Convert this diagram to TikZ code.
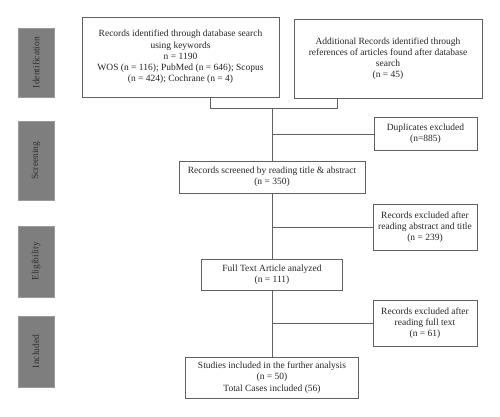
\documentclass[tikz,border=0pt]{standalone}
\usepackage{fontspec}
\setmainfont{Liberation Serif}
\begin{document}
\begin{tikzpicture}[x=1pt,y=-1pt,
  box/.style={draw=linec,line width=0.8pt,fill=white,inner sep=0pt,align=center,font=\fontsize{9.5}{11.2}\selectfont,text=txt},
  bar/.style={draw=barb,line width=0.6pt,fill=barf,inner sep=0pt,minimum width=36pt,font=\fontsize{9.5}{11}\selectfont,text=bart},
  conn/.style={draw=linec,line width=0.8pt}]
\definecolor{linec}{HTML}{606060}
\definecolor{txt}{HTML}{262626}
\definecolor{barf}{HTML}{7E7E7E}
\definecolor{barb}{HTML}{9A9A9A}
\definecolor{bart}{HTML}{2E2E2E}
\useasboundingbox (0,0) rectangle (500,416);
% side bars
\node[bar,minimum height=69pt] (bid) at (36,62.5) {\rotatebox{90}{Identification}};
\node[bar,minimum height=79pt] (bsc) at (36,160.5) {\rotatebox{90}{Screening}};
\node[bar,minimum height=71pt] (bel) at (36,261.5) {\rotatebox{90}{Eligibility}};
\node[bar,minimum height=71pt] (bin) at (36,351.5) {\rotatebox{90}{Included}};
% boxes
\node[box,minimum width=197pt,minimum height=80pt] (b1) at (180.5,57) {Records identified through database search\\using keywords\\n = 1190\\WOS (n = 116); PubMed (n = 646); Scopus\\(n = 424); Cochrane (n = 4)};
\node[box,minimum width=188pt,minimum height=79pt] (b2) at (388,58.5) {Additional Records identified through\\references of articles found after database\\search\\(n = 45)};
\node[box,minimum width=103pt,minimum height=33pt] (dup) at (425.5,134) {Duplicates excluded\\(n=885)};
\node[box,minimum width=186pt,minimum height=32pt] (scr) at (272,177) {Records screened by reading title \& abstract\\(n = 350)};
\node[box,minimum width=104pt,minimum height=46pt] (ex1) at (425,227) {Records excluded after\\reading abstract and title\\(n = 239)};
\node[box,minimum width=141pt,minimum height=31pt] (full) at (272,274.5) {Full Text Article analyzed\\(n = 111)};
\node[box,minimum width=104pt,minimum height=46pt] (ex2) at (425,323) {Records excluded after\\reading full text\\(n = 61)};
\node[box,minimum width=173pt,minimum height=41pt] (stud) at (272,377.5) {Studies included in the further analysis\\(n = 50)\\Total Cases included (56)};
% connectors
\coordinate (j) at (272,108);
\draw[conn] ([xshift=29.5pt]b1.south) |- (j);
\draw[conn] (j) -| ([xshift=-51pt]b2.south);
\draw[conn] (j) -- (scr.north);
\draw[conn] (j |- dup.west) -- (dup.west);
\draw[conn] (scr.south) -- (full.north);
\draw[conn] (j |- ex1.west) -- (ex1.west);
\draw[conn] (full.south) -- (stud.north);
\draw[conn] (j |- ex2.west) -- (ex2.west);
\end{tikzpicture}
\end{document}
